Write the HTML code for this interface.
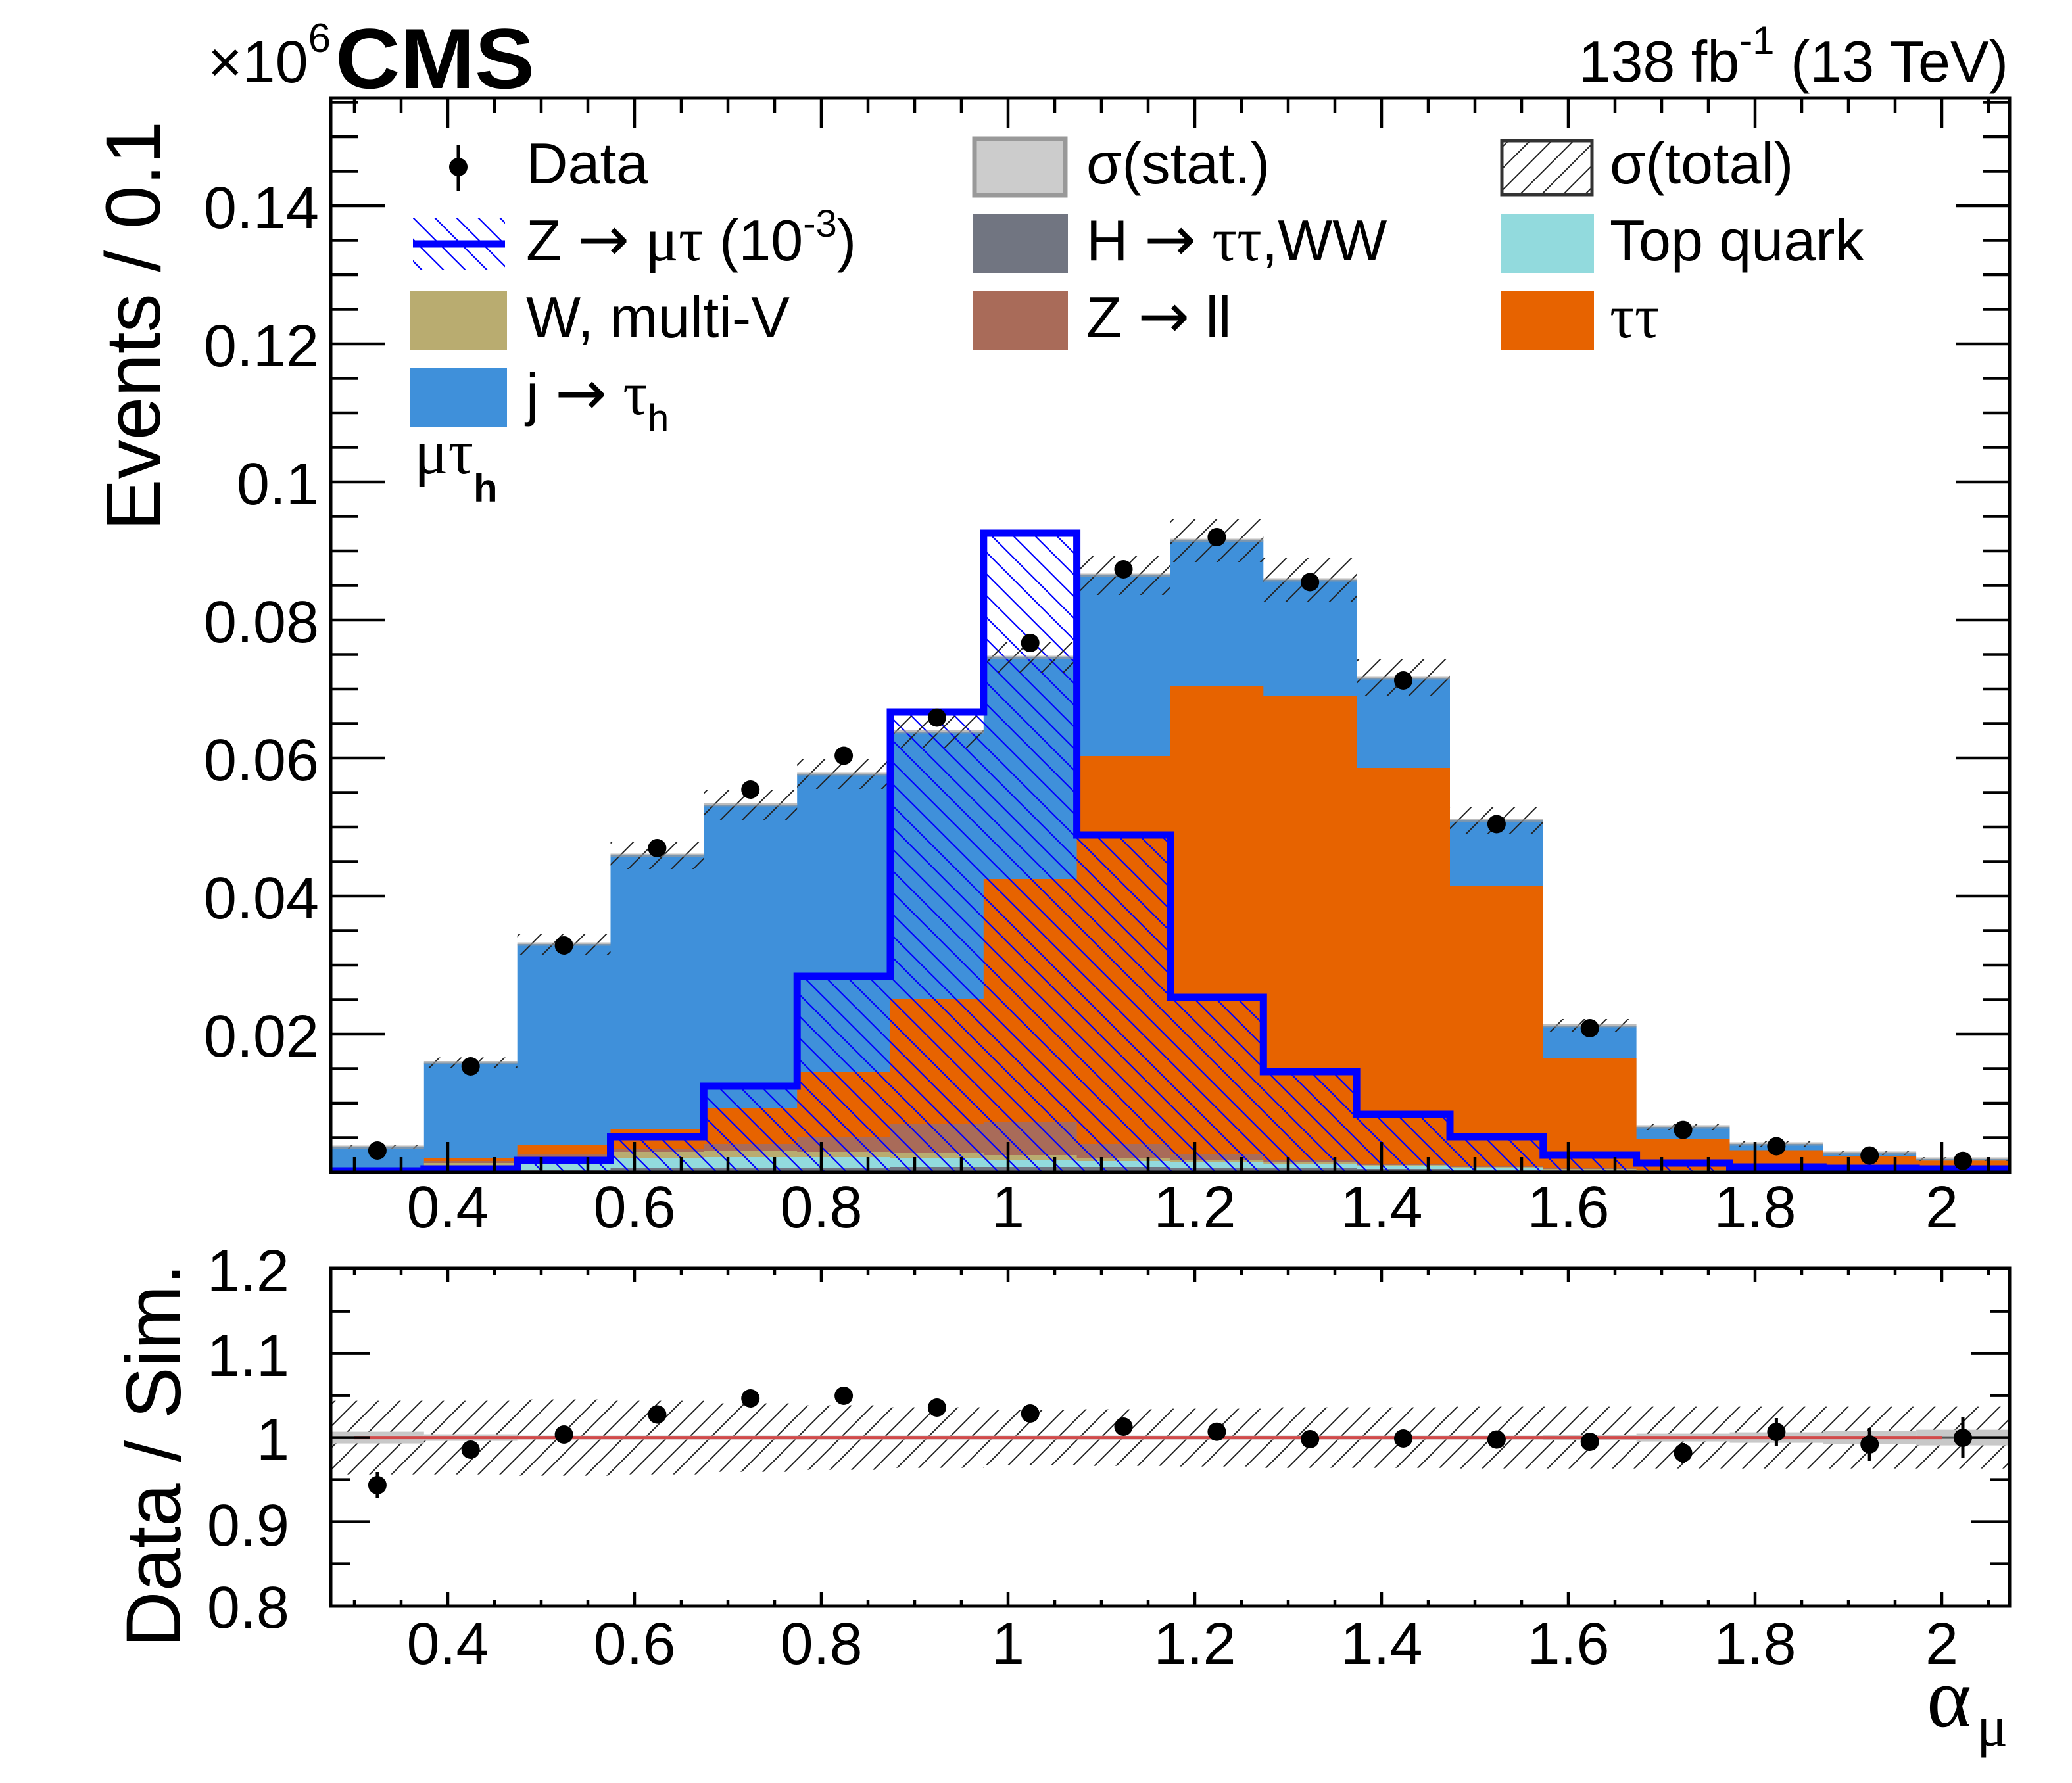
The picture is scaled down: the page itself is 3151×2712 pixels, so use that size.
<!DOCTYPE html>
<html><head><meta charset="utf-8"><style>html,body{margin:0;padding:0;background:#fff}svg{display:block}</style></head>
<body>
<svg width="3151" height="2712" viewBox="0 0 3151 2712" xmlns="http://www.w3.org/2000/svg" font-family="'Liberation Sans', Arial, sans-serif">
<defs>
<pattern id="hk" patternUnits="userSpaceOnUse" width="33" height="33"><path d="M0,33 L33,0 M-3,3 L3,-3 M30,36 L36,30" stroke="#222" stroke-width="2" fill="none"/></pattern>
<pattern id="hbl" patternUnits="userSpaceOnUse" width="33" height="33"><path d="M0,0 L33,33 M-3,30 L3,36 M30,-3 L36,3" stroke="#0000ff" stroke-width="2.2" fill="none"/></pattern>
<clipPath id="cm"><rect x="503" y="149" width="2553" height="1634"/></clipPath>
<clipPath id="cr"><rect x="503" y="1929" width="2553" height="514"/></clipPath>
</defs>
<rect width="3151" height="2712" fill="#fff"/>

<!-- MAIN PANEL -->
<g clip-path="url(#cm)">
<path fill="#3f90da" d="M503,1783V1745H644.8V1616.5H786.7V1436H928.5V1301H1070.3V1224H1212.2V1177H1354V1113H1495.8V1000H1637.6V875H1779.5V822H1921.3V882H2063.1V1031H2205V1248H2346.8V1560H2488.6V1714H2630.5V1740H2772.3V1754H2914.1V1763H3056V1783Z"/>
<path fill="#e76300" d="M503,1783V1777H644.8V1762H786.7V1742H928.5V1718H1070.3V1686H1212.2V1631H1354V1519H1495.8V1337H1637.6V1150H1779.5V1043H1921.3V1059H2063.1V1168H2205V1347H2346.8V1609H2488.6V1732H2630.5V1749.5H2772.3V1759H2914.1V1765H3056V1783Z"/>
<path fill="#a96b59" d="M503,1783V1778H644.8V1766H786.7V1755H928.5V1747H1070.3V1740H1212.2V1730H1354V1709H1495.8V1707H1637.6V1740H1779.5V1756H1921.3V1764H2063.1V1770H2205V1774H2346.8V1777H2488.6V1779H2630.5V1780H2772.3V1781H2914.1V1781H3056V1783Z"/>
<path fill="#b9ac70" d="M503,1783V1779H644.8V1769H786.7V1760H928.5V1752H1070.3V1750H1212.2V1752H1354V1753H1495.8V1757H1637.6V1762H1779.5V1765H1921.3V1767H2063.1V1772H2205V1775H2346.8V1778H2488.6V1780H2630.5V1781H2772.3V1781H2914.1V1782H3056V1783Z"/>
<path fill="#92dadd" d="M503,1783V1780H644.8V1773H786.7V1766H928.5V1761H1070.3V1760H1212.2V1760H1354V1762H1495.8V1764H1637.6V1766H1779.5V1768H1921.3V1771H2063.1V1774H2205V1777H2346.8V1779H2488.6V1781H2630.5V1781H2772.3V1782H2914.1V1782H3056V1783Z"/>
<path fill="#717581" d="M503,1783V1781H644.8V1779H786.7V1779H928.5V1777H1070.3V1777H1212.2V1777H1354V1775H1495.8V1775H1637.6V1775H1779.5V1776H1921.3V1777H2063.1V1778H2205V1779H2346.8V1780H2488.6V1781H2630.5V1782H2914.1V1782H3056V1783Z"/>

<!-- Z -> mu tau hatch fill -->
<path fill="url(#hbl)" d="M503,1781H644.8V1778H786.7V1765H928.5V1729H1070.3V1652H1212.2V1485H1354V1083H1495.8V811H1637.6V1270H1779.5V1517H1921.3V1630H2063.1V1695H2205V1729H2346.8V1757H2488.6V1769H2630.5V1775H2772.3V1777H2914.1V1778H3056V1783H503Z"/>

<!-- sigma(total) band -->
<g fill="url(#hk)">
<rect x="503" y="1742" width="141.8" height="6"/>
<rect x="644.8" y="1608.5" width="141.9" height="16"/>
<rect x="786.7" y="1420" width="141.8" height="32"/>
<rect x="928.5" y="1280" width="141.8" height="42"/>
<rect x="1070.3" y="1201" width="141.9" height="46"/>
<rect x="1212.2" y="1154" width="141.8" height="46"/>
<rect x="1354" y="1089" width="141.8" height="48"/>
<rect x="1495.8" y="976" width="141.8" height="48"/>
<rect x="1637.6" y="845" width="141.9" height="60"/>
<rect x="1779.5" y="789" width="141.8" height="66"/>
<rect x="1921.3" y="849" width="141.8" height="66"/>
<rect x="2063.1" y="1003" width="141.9" height="56"/>
<rect x="2205" y="1228" width="141.8" height="40"/>
<rect x="2346.8" y="1550" width="141.8" height="20"/>
<rect x="2488.6" y="1709" width="141.9" height="10"/>
<rect x="2630.5" y="1736" width="141.8" height="8"/>
<rect x="2772.3" y="1751" width="141.8" height="6"/>
<rect x="2914.1" y="1760" width="141.9" height="6"/>
</g>
<!-- sigma(stat) thin band -->
<path fill="none" stroke="#999" stroke-opacity="0.65" stroke-width="5" d="M503,1745H644.8M644.8,1616.5H786.7M786.7,1436H928.5M928.5,1301H1070.3M1070.3,1224H1212.2M1212.2,1177H1354M1354,1113H1495.8M1495.8,1000H1637.6M1637.6,875H1779.5M1779.5,822H1921.3M1921.3,882H2063.1M2063.1,1031H2205M2205,1248H2346.8M2346.8,1560H2488.6M2488.6,1714H2630.5M2630.5,1740H2772.3M2772.3,1754H2914.1M2914.1,1763H3056"/>

<!-- Z -> mu tau line -->
<path fill="none" stroke="#0000ff" stroke-width="11" stroke-linejoin="miter" d="M503,1781H644.8V1778H786.7V1765H928.5V1729H1070.3V1652H1212.2V1485H1354V1083H1495.8V811H1637.6V1270H1779.5V1517H1921.3V1630H2063.1V1695H2205V1729H2346.8V1757H2488.6V1769H2630.5V1775H2772.3V1777H2914.1V1778H3056"/>

<!-- data -->
<g fill="#000">
<circle cx="573.9" cy="1750" r="14"/>
<circle cx="715.7" cy="1622" r="14"/>
<circle cx="857.6" cy="1438" r="14"/>
<circle cx="999.4" cy="1290" r="14"/>
<circle cx="1141.2" cy="1201" r="14"/>
<circle cx="1283.1" cy="1149.5" r="14"/>
<circle cx="1424.9" cy="1091.5" r="14"/>
<circle cx="1566.7" cy="978" r="14"/>
<circle cx="1708.5" cy="866" r="14"/>
<circle cx="1850.4" cy="817" r="14"/>
<circle cx="1992.2" cy="885.5" r="14"/>
<circle cx="2134" cy="1035" r="14"/>
<circle cx="2275.9" cy="1253.5" r="14"/>
<circle cx="2417.7" cy="1564" r="14"/>
<circle cx="2559.5" cy="1718.6" r="14"/>
<circle cx="2701.4" cy="1743.5" r="14"/>
<circle cx="2843.2" cy="1757.6" r="14"/>
<circle cx="2985" cy="1765.7" r="14"/>
</g>
</g>

<!-- RATIO PANEL -->
<g clip-path="url(#cr)">
<path fill="url(#hk)" d="M503,2130.6H786.7V2128.6H928.5V2130.6H1070.3V2134.6H1212.2V2137.6H1354V2140.6H1495.8V2144.6H1637.6V2143.6H1779.5V2142.6H1921.3V2140.6H2205V2139.6H3056V2233.6H2205V2232.6H1921.3V2230.6H1779.5V2229.6H1637.6V2228.6H1495.8V2232.6H1354V2235.6H1212.2V2238.6H1070.3V2242.6H928.5V2244.6H786.7V2242.6H503Z"/>
<g fill="#c8c8c8">
<rect x="503" y="2177.6" width="141.8" height="18"/>
<rect x="644.8" y="2181.6" width="141.9" height="10"/>
<rect x="786.7" y="2183.6" width="1560.1" height="6"/>
<rect x="2346.8" y="2182.6" width="141.8" height="8"/>
<rect x="2488.6" y="2180.6" width="141.9" height="12"/>
<rect x="2630.5" y="2178.6" width="141.8" height="16"/>
<rect x="2772.3" y="2176.6" width="141.8" height="20"/>
<rect x="2914.1" y="2174.6" width="141.9" height="24"/>
</g>
<line x1="503" y1="2186.6" x2="3056" y2="2186.6" stroke="#555" stroke-width="4"/>
<line x1="539" y1="2186.6" x2="2953" y2="2186.6" stroke="#d24a4a" stroke-width="5"/>
<path stroke="#000" stroke-width="5" fill="none" d="M573.9,2239v40M2559.5,2195v30M2701.4,2157v42M2843.2,2172v50M2985,2156v62"/>
<g fill="#000">
<circle cx="573.9" cy="2259" r="14"/>
<circle cx="715.7" cy="2205" r="14"/>
<circle cx="857.6" cy="2182" r="14"/>
<circle cx="999.4" cy="2151.5" r="14"/>
<circle cx="1141.2" cy="2127" r="14"/>
<circle cx="1283.1" cy="2123" r="14"/>
<circle cx="1424.9" cy="2141" r="14"/>
<circle cx="1566.7" cy="2150" r="14"/>
<circle cx="1708.5" cy="2170" r="14"/>
<circle cx="1850.4" cy="2177.7" r="14"/>
<circle cx="1992.2" cy="2189" r="14"/>
<circle cx="2134" cy="2188" r="14"/>
<circle cx="2275.9" cy="2189.6" r="14"/>
<circle cx="2417.7" cy="2193" r="14"/>
<circle cx="2559.5" cy="2210" r="14"/>
<circle cx="2701.4" cy="2178" r="14"/>
<circle cx="2843.2" cy="2197" r="14"/>
<circle cx="2985" cy="2187" r="14"/>
</g>
</g>

<!-- FRAMES & TICKS -->
<g fill="none" stroke="#000">
<rect x="503" y="149" width="2553" height="1634" stroke-width="5"/>
<rect x="503" y="1929" width="2553" height="514" stroke-width="5"/>
<g stroke-width="4.5">
<g id="myt">
<path d="M503,1730.5h41M503,1678h41M503,1625.5h41M503,1520.5h41M503,1468h41M503,1415.5h41M503,1310.5h41M503,1258h41M503,1205.5h41M503,1100.5h41M503,1048h41M503,995.5h41M503,890.5h41M503,838h41M503,785.5h41M503,680.5h41M503,628h41M503,575.5h41M503,470.5h41M503,418h41M503,365.5h41M503,260.5h41M503,208h41M503,155.5h41"/>
<path d="M503,1573h82M503,1363h82M503,1153h82M503,943h82M503,733h82M503,523h82M503,313h82"/>
</g>
<use href="#myt" transform="translate(3559,0) scale(-1,1)"/>
<g id="mxt">
<path d="M539,1783v-23M610,1783v-23M752,1783v-23M823,1783v-23M894,1783v-23M1036,1783v-23M1107,1783v-23M1178,1783v-23M1320,1783v-23M1391,1783v-23M1462,1783v-23M1604,1783v-23M1675,1783v-23M1746,1783v-23M1888,1783v-23M1959,1783v-23M2030,1783v-23M2172,1783v-23M2243,1783v-23M2314,1783v-23M2456,1783v-23M2527,1783v-23M2598,1783v-23M2740,1783v-23M2811,1783v-23M2882,1783v-23M3024,1783v-23"/>
<path d="M681,1783v-46M965,1783v-46M1249,1783v-46M1533,1783v-46M1817,1783v-46M2101,1783v-46M2385,1783v-46M2669,1783v-46M2953,1783v-46"/>
</g>
<use href="#mxt" transform="translate(0,1932) scale(1,-1)"/>
<g id="rxt">
<path d="M539,2443v-10M610,2443v-10M752,2443v-10M823,2443v-10M894,2443v-10M1036,2443v-10M1107,2443v-10M1178,2443v-10M1320,2443v-10M1391,2443v-10M1462,2443v-10M1604,2443v-10M1675,2443v-10M1746,2443v-10M1888,2443v-10M1959,2443v-10M2030,2443v-10M2172,2443v-10M2243,2443v-10M2314,2443v-10M2456,2443v-10M2527,2443v-10M2598,2443v-10M2740,2443v-10M2811,2443v-10M2882,2443v-10M3024,2443v-10"/>
<path d="M681,2443v-21M965,2443v-21M1249,2443v-21M1533,2443v-21M1817,2443v-21M2101,2443v-21M2385,2443v-21M2669,2443v-21M2953,2443v-21"/>
</g>
<use href="#rxt" transform="translate(0,4372) scale(1,-1)"/>
<g id="ryt">
<path d="M503,1994.6h30M503,2122.6h30M503,2250.6h30M503,2378.6h30"/>
<path d="M503,2058.6h59M503,2186.6h59M503,2314.6h59"/>
</g>
<use href="#ryt" transform="translate(3559,0) scale(-1,1)"/>
</g>
</g>

<!-- AXIS LABELS -->
<g font-size="90" fill="#000">
<g text-anchor="end">
<text x="485" y="1607">0.02</text>
<text x="485" y="1397">0.04</text>
<text x="485" y="1187">0.06</text>
<text x="485" y="977">0.08</text>
<text x="485" y="767">0.1</text>
<text x="485" y="557">0.12</text>
<text x="485" y="347">0.14</text>
<text x="440" y="1964">1.2</text>
<text x="440" y="2093">1.1</text>
<text x="440" y="2220">1</text>
<text x="440" y="2351">0.9</text>
<text x="440" y="2476">0.8</text>
</g>
<g text-anchor="middle">
<text x="681" y="1867">0.4</text>
<text x="965" y="1867">0.6</text>
<text x="1249" y="1867">0.8</text>
<text x="1533" y="1867">1</text>
<text x="1817" y="1867">1.2</text>
<text x="2101" y="1867">1.4</text>
<text x="2385" y="1867">1.6</text>
<text x="2669" y="1867">1.8</text>
<text x="2953" y="1867">2</text>
<text x="681" y="2531">0.4</text>
<text x="965" y="2531">0.6</text>
<text x="1249" y="2531">0.8</text>
<text x="1533" y="2531">1</text>
<text x="1817" y="2531">1.2</text>
<text x="2101" y="2531">1.4</text>
<text x="2385" y="2531">1.6</text>
<text x="2669" y="2531">1.8</text>
<text x="2953" y="2531">2</text>
</g>
</g>

<text transform="translate(243,184) rotate(-90)" font-size="118" text-anchor="end">Events / 0.1</text>
<text transform="translate(274,1922) rotate(-90)" font-size="118" text-anchor="end">Data / Sim.</text>
<text x="2930" y="2626" font-size="130" font-family="'Liberation Serif', 'DejaVu Serif', serif">α</text>
<text x="3006" y="2655" font-size="88" font-family="'Liberation Serif', 'DejaVu Serif', serif">μ</text>

<!-- HEADER -->
<text x="510" y="134" font-size="130" font-weight="bold" textLength="303" lengthAdjust="spacingAndGlyphs">CMS</text>
<text x="316" y="125" font-size="90">×10<tspan font-size="62" dy="-46">6</tspan></text>
<text x="3054" y="124" font-size="88" text-anchor="end">138 fb<tspan font-size="60" dy="-42">-1</tspan><tspan dy="42"> (13 TeV)</tspan></text>

<!-- LEGEND -->
<rect x="694.5" y="220" width="5" height="70" fill="#000"/>
<circle cx="697" cy="254" r="14" fill="#000"/>
<rect x="628" y="331" width="140" height="80" fill="url(#hbl)"/>
<line x1="628" y1="371" x2="768" y2="371" stroke="#0000ff" stroke-width="11"/>
<rect x="624" y="443" width="147" height="90" fill="#b9ac70"/>
<rect x="624" y="559" width="147" height="90" fill="#3f90da"/>
<rect x="1482" y="211" width="138" height="86" fill="#cccccc" stroke="#999" stroke-width="7"/>
<rect x="1479" y="326" width="145" height="90" fill="#717581"/>
<rect x="1479" y="443" width="145" height="90" fill="#a96b59"/>
<rect x="2284" y="214" width="137" height="82" fill="#fff"/>
<rect x="2284" y="214" width="137" height="82" fill="url(#hk)" stroke="#333" stroke-width="5"/>
<rect x="2282" y="326" width="142" height="90" fill="#92dadd"/>
<rect x="2282" y="443" width="142" height="90" fill="#e76300"/>

<g font-size="88" fill="#000">
<text x="800" y="279">Data</text>
<text x="800" y="396">Z <tspan font-family="'DejaVu Sans', sans-serif" font-size="94">→</tspan> <tspan font-family="'Liberation Serif', 'DejaVu Serif', serif" font-size="94">μτ</tspan> (10<tspan font-size="58" dy="-36">-3</tspan><tspan dy="36">)</tspan></text>
<text x="800" y="513">W, multi-V</text>
<text x="800" y="630">j <tspan font-family="'DejaVu Sans', sans-serif" font-size="94">→</tspan> <tspan font-family="'Liberation Serif', 'DejaVu Serif', serif" font-size="94">τ</tspan><tspan font-size="58" dy="26">h</tspan></text>
<text x="1652" y="279">σ(stat.)</text>
<text x="1652" y="396">H <tspan font-family="'DejaVu Sans', sans-serif" font-size="94">→</tspan> <tspan font-family="'Liberation Serif', 'DejaVu Serif', serif" font-size="94">ττ</tspan>,WW</text>
<text x="1652" y="513">Z <tspan font-family="'DejaVu Sans', sans-serif" font-size="94">→</tspan> ll</text>
<text x="2448" y="279">σ(total)</text>
<text x="2448" y="396">Top quark</text>
<text x="2448" y="513" font-family="'Liberation Serif', 'DejaVu Serif', serif" font-size="94">ττ</text>
</g>
<text x="630" y="720" font-size="96" font-family="'Liberation Serif', 'DejaVu Serif', serif">μτ<tspan font-family="'Liberation Sans', Arial, sans-serif" font-weight="bold" font-size="60" dy="43">h</tspan></text>
</svg>
</body></html>
